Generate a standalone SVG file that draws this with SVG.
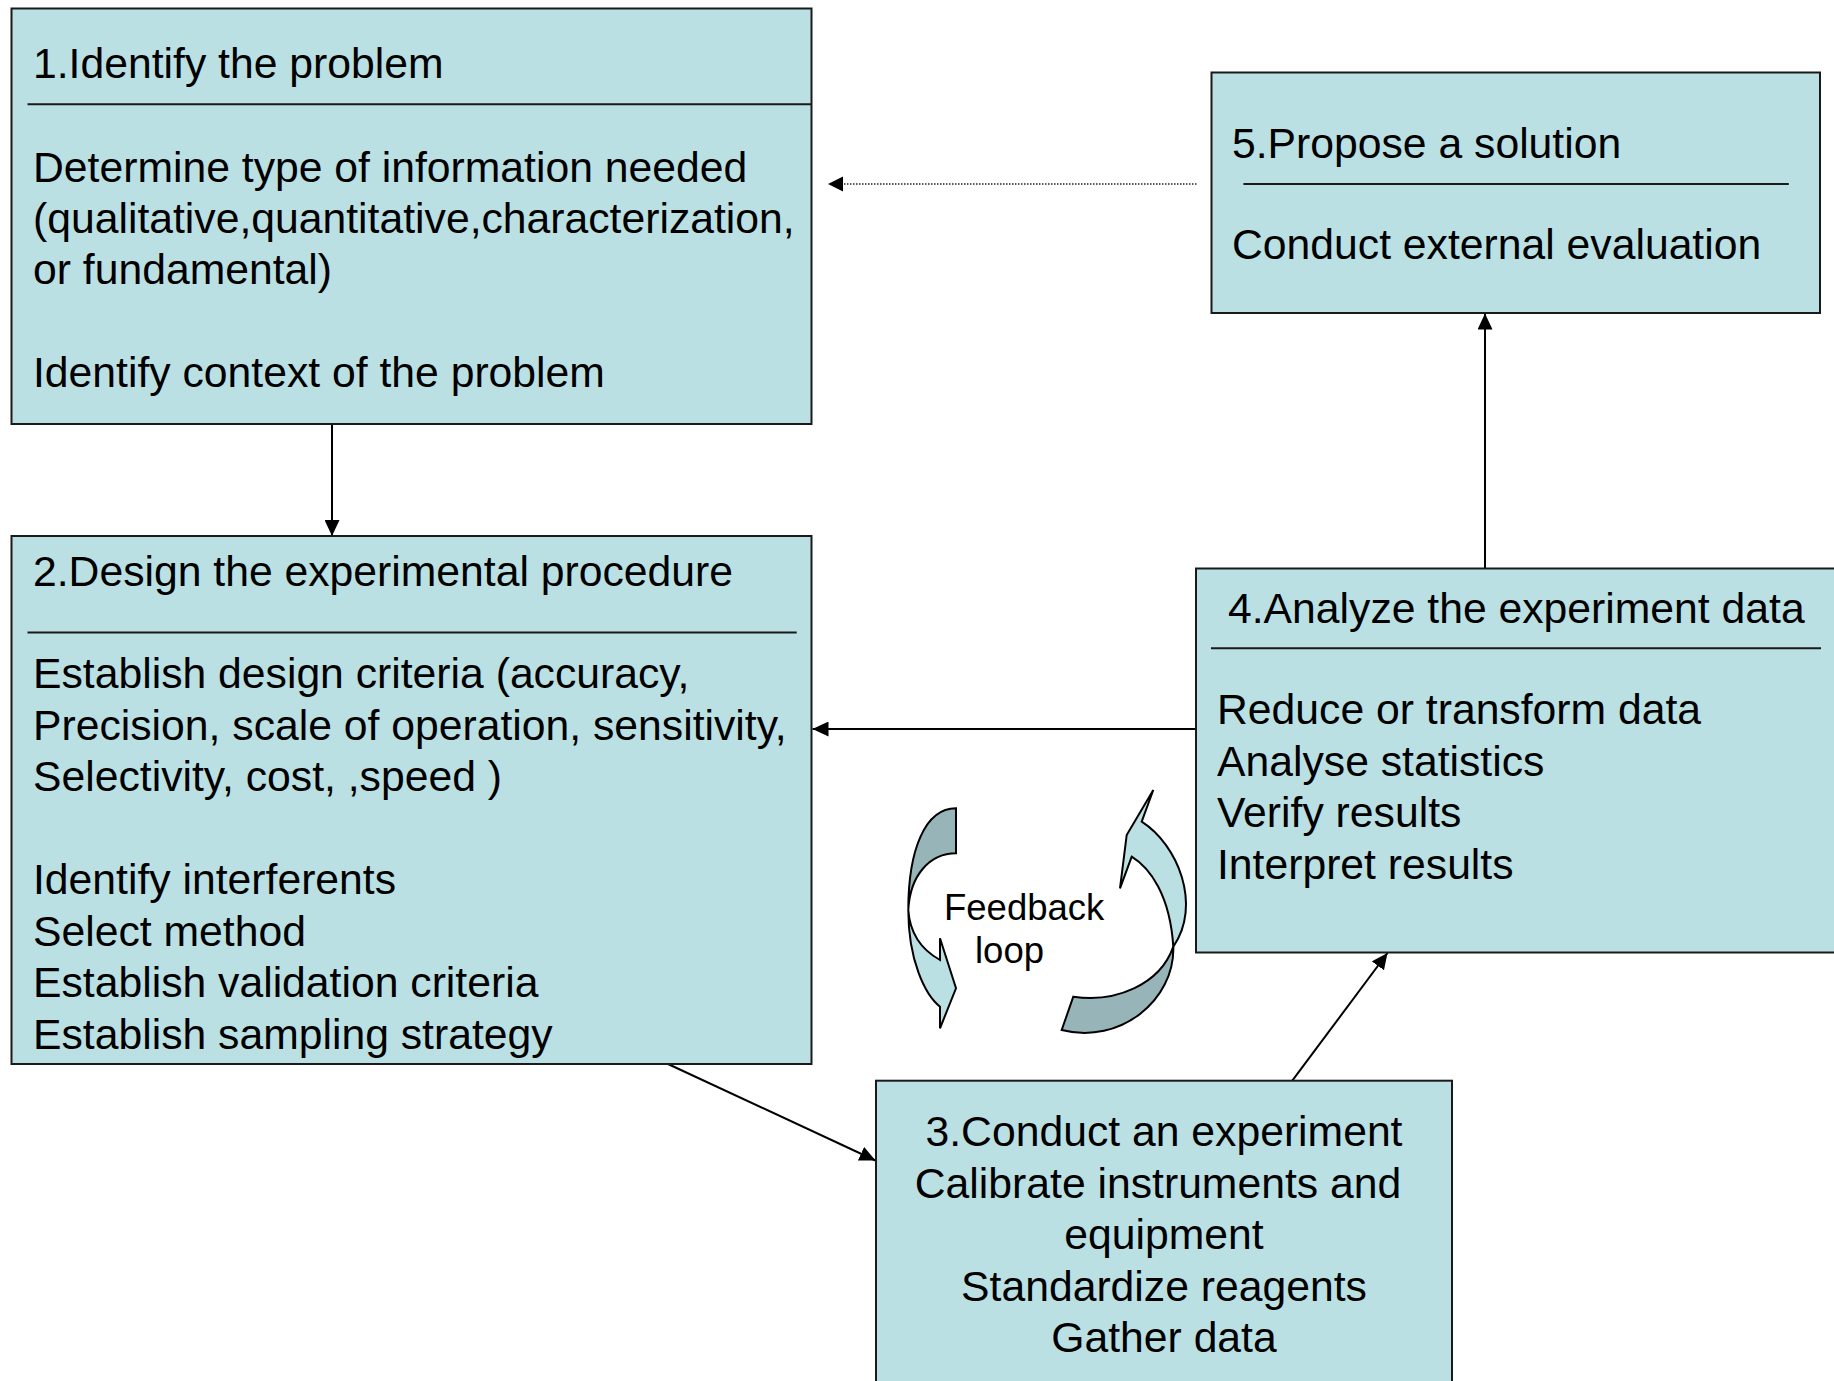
<svg xmlns="http://www.w3.org/2000/svg" width="1834" height="1381" viewBox="0 0 1834 1381">
<style>
.box{fill:#BBE0E3;stroke:#1a1a1a;stroke-width:2}
.div{stroke:#1a1a1a;stroke-width:2}
.t{font-family:"Liberation Sans",Arial,sans-serif;font-size:42.7px;fill:#000}
.c{text-anchor:middle}
.fb{font-family:"Liberation Sans",Arial,sans-serif;font-size:36.5px;fill:#000}
.con{stroke:#000;stroke-width:2;fill:none}
.dot{stroke:#222;stroke-width:1.5;fill:none;stroke-dasharray:1.5 1.5}
.lt{fill:#BBE0E3;stroke:#000;stroke-width:2;stroke-linejoin:miter}
.dk{fill:#97B5B9;stroke:#000;stroke-width:2;stroke-linejoin:miter}
</style>
<defs>
<marker id="ah" viewBox="0 0 16 15" refX="16" refY="7.5" markerWidth="16" markerHeight="15" markerUnits="userSpaceOnUse" orient="auto">
<path d="M0,0 L16,7.5 L0,15 Z" fill="#000"/>
</marker>
</defs>
<rect width="1834" height="1381" fill="#fff"/>

<g id="connectors">
<path class="con" d="M332,424 L332,536" marker-end="url(#ah)"/>
<path class="con" d="M1196,729 L812.5,729" marker-end="url(#ah)"/>
<path class="con" d="M1485,568.5 L1485,313.5" marker-end="url(#ah)"/>
<path class="dot" d="M1196.5,184 L842,184"/>
<path d="M828,184 L843,176.5 L843,191.5 Z" fill="#000"/>
<path class="con" d="M668,1064 L875.5,1160.5" marker-end="url(#ah)"/>
<path class="con" d="M1292.3,1080.7 L1387.5,953" marker-end="url(#ah)"/>
</g>

<g id="node1">
<rect class="box" x="11.5" y="8.5" width="800" height="415.5"/>
<line class="div" x1="27.5" y1="104.3" x2="811.5" y2="104.3"/>
<text class="t" x="33" y="78.3">1.Identify the problem</text>
<text class="t" x="33" y="181.5">Determine type of information needed</text>
<text class="t" x="33" y="232.8">(qualitative,quantitative,characterization,</text>
<text class="t" x="33" y="284.1">or fundamental)</text>
<text class="t" x="33" y="386.7">Identify context of the problem</text>
</g>

<g id="node2">
<rect class="box" x="11.5" y="536" width="800" height="528"/>
<line class="div" x1="27.5" y1="632.5" x2="796.7" y2="632.5"/>
<text class="t" x="33" y="586">2.Design the experimental procedure</text>
<text class="t" x="33" y="688">Establish design criteria (accuracy,</text>
<text class="t" x="33" y="739.5">Precision, scale of operation, sensitivity,</text>
<text class="t" x="33" y="791">Selectivity, cost, ,speed )</text>
<text class="t" x="33" y="894">Identify interferents</text>
<text class="t" x="33" y="945.5">Select method</text>
<text class="t" x="33" y="997">Establish validation criteria</text>
<text class="t" x="33" y="1048.5">Establish sampling strategy</text>
</g>

<g id="node5">
<rect class="box" x="1211.5" y="72.5" width="608.5" height="240.5"/>
<line class="div" x1="1243.4" y1="184" x2="1788.8" y2="184"/>
<text class="t" x="1232" y="157.7">5.Propose a solution</text>
<text class="t" x="1232" y="259.3">Conduct external evaluation</text>
</g>

<g id="node4">
<rect class="box" x="1196" y="568.5" width="700" height="384"/>
<line class="div" x1="1211" y1="648.3" x2="1821" y2="648.3"/>
<text class="t" x="1228" y="622.7">4.Analyze the experiment data</text>
<text class="t" x="1217" y="724">Reduce or transform data</text>
<text class="t" x="1217" y="775.5">Analyse statistics</text>
<text class="t" x="1217" y="827">Verify results</text>
<text class="t" x="1217" y="878.5">Interpret results</text>
</g>

<g id="node3">
<rect class="box" x="876" y="1080.7" width="576" height="400"/>
<text class="t c" x="1164" y="1146">3.Conduct an experiment</text>
<text class="t c" x="1158" y="1197.5">Calibrate instruments and</text>
<text class="t c" x="1164" y="1249">equipment</text>
<text class="t c" x="1164" y="1300.5">Standardize reagents</text>
<text class="t c" x="1164" y="1352">Gather data</text>
</g>

<g id="feedback">
<path class="dk" d="M956,808.3 C925,808.3 908.3,850 908.3,910 C910,875 930,853.3 956,853.3 Z"/>
<path class="lt" d="M908.3,910 C908.3,960 925,995 940,1006.7 L940,1028.3 L956,988.3 L940,938.3 L940,960 C922,950 910,935 908.3,910 Z"/>
<path class="lt" d="M1131.7,856.7 L1120,888.3 L1126.7,835 L1153.3,790 L1141.7,821.7 C1178,845 1202,905 1173.3,946.7 C1170,895 1150,868 1131.7,856.7 Z"/>
<path class="dk" d="M1173.3,946.7 C1175,1000 1120,1045 1061.7,1030 L1073.3,996.7 C1115,1003 1160,985 1173.3,946.7 Z"/>
<text class="fb" x="944" y="919.5">Feedback</text>
<text class="fb" x="975" y="963">loop</text>
</g>
</svg>
